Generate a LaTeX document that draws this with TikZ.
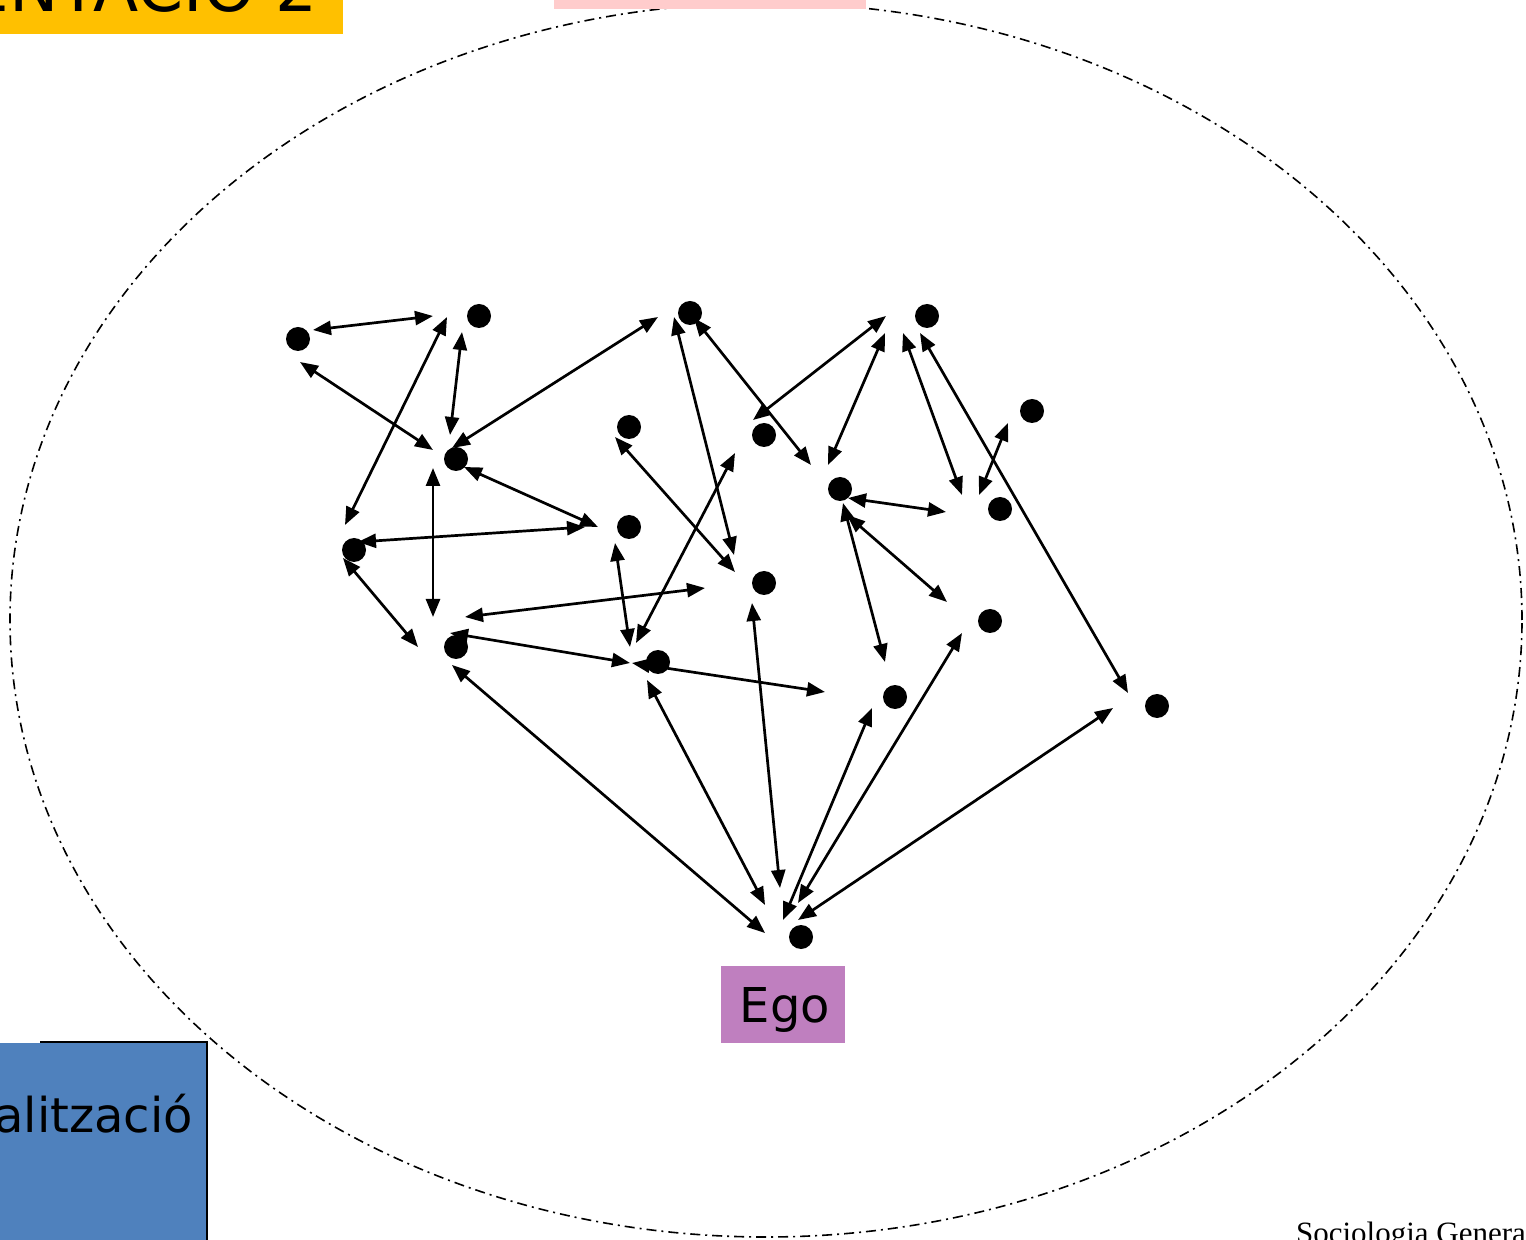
\documentclass[tikz,border=0pt]{standalone}
\usepackage{fontspec}
\setmainfont{DejaVu Sans}
\newfontfamily\timesfont{Liberation Serif}
\usetikzlibrary{arrows.meta}
\definecolor{titleyellow}{RGB}{255,192,0}
\definecolor{titlepink}{RGB}{255,204,204}
\definecolor{boxblue}{RGB}{79,129,189}
\definecolor{egopurple}{RGB}{191,127,191}
\tikzset{
  dotnode/.style={circle,fill=black,draw=none,minimum size=12pt,inner sep=0pt},
  biarrow/.style={line width=1.35pt,{Triangle[length=9pt,width=7pt]}-{Triangle[length=9pt,width=7pt]}},
  boundary/.style={line width=0.8pt,dash pattern=on 5pt off 2.5pt on 1pt off 2.5pt},
  plainbox/.style={draw=none,inner sep=0pt,outer sep=0pt}
}
\begin{document}
\begin{tikzpicture}[x=0.5pt,y=-0.5pt]
\useasboundingbox (0,0) rectangle (1526,1240);
% boundary ellipse
\draw[boundary] (766,620) ellipse [x radius=378pt, y radius=308.5pt];
% boxes
\fill[titleyellow] (0,-20) rectangle (343,34.5);
\node[plainbox,anchor=base east,font=\fontsize{33}{36}\selectfont] (title) at (318,12) {PRESENTACIÓ 2};
\fill[titlepink] (554,-20) rectangle (866,9);
\fill[boxblue] (0,1043) rectangle (207,1260);
\draw[line width=0.9pt] (40,1042) -- (207,1042) -- (207,1260);
\node[plainbox,anchor=base east,font=\fontsize{24}{28}\selectfont] (soc) at (193,1132) {Socialització};
\fill[egopurple] (721,966) rectangle (845,1043);
\node[plainbox,anchor=base,font=\fontsize{24}{28}\selectfont] (ego) at (785,1022) {Ego};
\node[plainbox,anchor=base west,font=\timesfont\fontsize{15.5}{18}\selectfont] (foot) at (1296,1243) {Sociologia General};
% dots
\node[dotnode] (d1) at (298,339) {};
\node[dotnode] (d2) at (479,316) {};
\node[dotnode] (d3) at (690,313) {};
\node[dotnode] (d4) at (927,316) {};
\node[dotnode] (d5) at (456,459) {};
\node[dotnode] (d6) at (629,427) {};
\node[dotnode] (d7) at (764,435) {};
\node[dotnode] (d8) at (1032,411) {};
\node[dotnode] (d9) at (840,489) {};
\node[dotnode] (d10) at (1000,509) {};
\node[dotnode] (d11) at (629,527) {};
\node[dotnode] (d12) at (354,550) {};
\node[dotnode] (d13) at (764,583) {};
\node[dotnode] (d14) at (990,621) {};
\node[dotnode] (d15) at (456,647) {};
\node[dotnode] (d16) at (658,662) {};
\node[dotnode] (d17) at (895,697) {};
\node[dotnode] (d18) at (1157,706) {};
\node[dotnode] (d19) at (801,937) {};
% arrow end points
\coordinate (a1s) at (313,330);  \coordinate (a1e) at (433,316);
\coordinate (a2s) at (447,317);  \coordinate (a2e) at (345,525);
\coordinate (a3s) at (462,332);  \coordinate (a3e) at (450,435);
\coordinate (a4s) at (300,362);  \coordinate (a4e) at (433,450);
\coordinate (a5s) at (452,448);  \coordinate (a5e) at (658,317);
\coordinate (a6s) at (464,467);  \coordinate (a6e) at (598,527);
\coordinate (a7s) at (433,468);  \coordinate (a7e) at (433,617);
\coordinate (a8s) at (358,542);  \coordinate (a8e) at (585,527);
\coordinate (a9s) at (343,558);  \coordinate (a9e) at (418,647);
\coordinate (a10s) at (465,617); \coordinate (a10e) at (705,588);
\coordinate (a11s) at (615,543); \coordinate (a11e) at (630,647);
\coordinate (a12s) at (450,633); \coordinate (a12e) at (630,663);
\coordinate (a13s) at (636,643); \coordinate (a13e) at (735,453);
\coordinate (a14s) at (632,663); \coordinate (a14e) at (825,692);
\coordinate (a15s) at (452,665); \coordinate (a15e) at (765,933);
\coordinate (a16s) at (647,680); \coordinate (a16e) at (765,905);
\coordinate (a17s) at (752,603); \coordinate (a17e) at (780,888);
\coordinate (a18s) at (783,920); \coordinate (a18e) at (872,708);
\coordinate (a19s) at (798,903); \coordinate (a19e) at (962,633);
\coordinate (a20s) at (798,920); \coordinate (a20e) at (1113,708);
\coordinate (a21s) at (920,333); \coordinate (a21e) at (1128,693);
\coordinate (a22s) at (903,333); \coordinate (a22e) at (962,495);
\coordinate (a23s) at (979,495); \coordinate (a23e) at (1008,423);
\coordinate (a24s) at (848,498); \coordinate (a24e) at (946,512);
\coordinate (a25s) at (847,515); \coordinate (a25e) at (947,602);
\coordinate (a26s) at (843,503); \coordinate (a26e) at (885,662);
\coordinate (a27s) at (828,465); \coordinate (a27e) at (885,333);
\coordinate (a28s) at (753,420); \coordinate (a28e) at (886,316);
\coordinate (a29s) at (694,318); \coordinate (a29e) at (811,465);
\coordinate (a30s) at (674,317); \coordinate (a30e) at (734,555);
\coordinate (a31s) at (615,437); \coordinate (a31e) at (735,572);
% arrows
\foreach \i in {1,...,31} {
  \draw[biarrow] (a\i s) -- (a\i e);
}
\end{tikzpicture}
\end{document}
